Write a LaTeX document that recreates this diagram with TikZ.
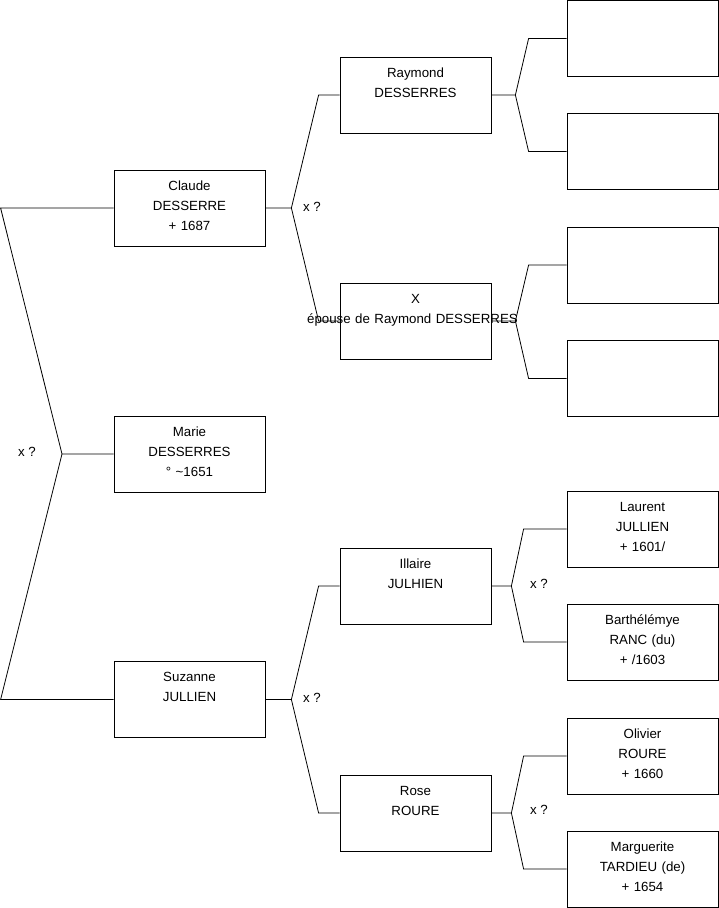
\documentclass[tikz,border=0pt]{standalone}
\usepackage{fontspec}
\setmainfont{Liberation Sans}
\usetikzlibrary{positioning}

\begin{document}
\begin{tikzpicture}[x=1pt, y=-1pt,
  person/.style={rectangle, draw=black, line width=0.8pt, align=center,
    text width=151pt, inner xsep=0pt, inner ysep=0pt,
    text height=20pt, text depth=56pt, font=\fontsize{13.3}{20}\selectfont},
  tie/.style={line width=0.8pt, black},
  spouse/.style={inner sep=0pt, font=\fontsize{13.3}{16}\selectfont}
]
\useasboundingbox (0,0) rectangle (719,908);

\node[person] (claude) at (189.5,208) {Claude\\DESSERRE\\+ 1687};
\node[person] (marie) at (189.5,454) {Marie\\DESSERRES\\° \textasciitilde1651};
\node[person] (suzanne) at (189.5,699.5) {Suzanne\\JULLIEN};

\node[person] (raymond) at (415.5,95) {Raymond\\DESSERRES};
\node[person] (xwife) at (415.5,321) {X\\\makebox[0pt]{\kern-6pt épouse de Raymond DESSERRES}};
\node[person] (illaire) at (415.5,586) {Illaire\\JULHIEN};
\node[person] (rose) at (415.5,813) {Rose\\ROURE};

\node[person] (r1) at (642.5,38.5) {};
\node[person] (r2) at (642.5,151.5) {};
\node[person] (r3) at (642.5,265) {};
\node[person] (r4) at (642.5,378.5) {};
\node[person] (laurent) at (642.5,529) {Laurent\\JULLIEN\\+ 1601/};
\node[person] (barthelemye) at (642.5,642) {Barthélémye\\RANC (du)\\+ /1603};
\node[person] (olivier) at (642.5,756) {Olivier\\ROURE\\+ 1660};
\node[person] (marguerite) at (642.5,869) {Marguerite\\TARDIEU (de)\\+ 1654};

\coordinate (fmarie) at (62,454);
\coordinate (fclaude) at ([xshift=26pt]claude.east);
\coordinate (fsuzanne) at ([xshift=26pt]suzanne.east);
\coordinate (fraymond) at ([xshift=24pt]raymond.east);
\coordinate (fxwife) at ([xshift=24pt]xwife.east);
\coordinate (fillaire) at ([xshift=20pt]illaire.east);
\coordinate (frose) at ([xshift=20pt]rose.east);

\draw[tie] (claude.west) -- ++(-113,0) -- (fmarie) -- (marie.west);
\draw[tie] (suzanne.west) -- ++(-113,0) -- (fmarie);

\draw[tie] (claude.east) -- (fclaude) -- ([xshift=-21pt]raymond.west) -- (raymond.west);
\draw[tie] (fclaude) -- ([xshift=-21pt]xwife.west) -- (xwife.west);
\draw[tie] (suzanne.east) -- (fsuzanne) -- ([xshift=-21pt]illaire.west) -- (illaire.west);
\draw[tie] (fsuzanne) -- ([xshift=-21pt]rose.west) -- (rose.west);

\draw[tie] (raymond.east) -- (fraymond) -- ([xshift=-38pt]r1.west) -- (r1.west);
\draw[tie] (fraymond) -- ([xshift=-38pt]r2.west) -- (r2.west);
\draw[tie] (xwife.east) -- (fxwife) -- ([xshift=-38pt]r3.west) -- (r3.west);
\draw[tie] (fxwife) -- ([xshift=-38pt]r4.west) -- (r4.west);
\draw[tie] (illaire.east) -- (fillaire) -- ([xshift=-43pt]laurent.west) -- (laurent.west);
\draw[tie] (fillaire) -- ([xshift=-43pt]barthelemye.west) -- (barthelemye.west);
\draw[tie] (rose.east) -- (frose) -- ([xshift=-43pt]olivier.west) -- (olivier.west);
\draw[tie] (frose) -- ([xshift=-43pt]marguerite.west) -- (marguerite.west);

\node[spouse] (xmarie) at (27,452) {x ?};
\node[spouse] (xclaude) at (312,207) {x ?};
\node[spouse] (xsuzanne) at (312,698) {x ?};
\node[spouse] (xillaire) at (539,584) {x ?};
\node[spouse] (xrose) at (539,810) {x ?};
\end{tikzpicture}
\end{document}
